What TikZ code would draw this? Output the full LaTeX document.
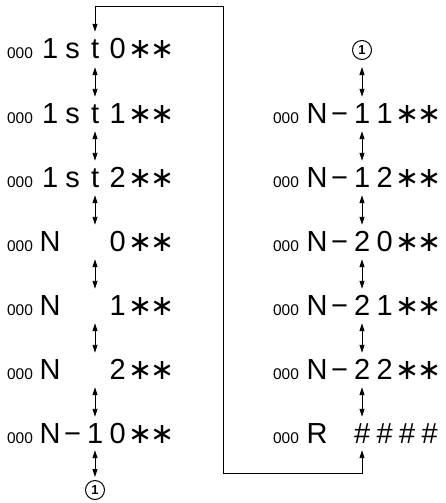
\documentclass[tikz,border=0pt]{standalone}
\usepackage{fontspec}
\setmainfont{Liberation Sans}
\newfontfamily\djv{DejaVu Sans}
\usepackage{graphicx}
\usetikzlibrary{arrows.meta,calc}
\newcommand\ch[1]{\makebox[22.5pt][c]{#1}}
\newcommand\sk{\resizebox{!}{18pt}{\djv ∗}}
\begin{document}
\begin{tikzpicture}[x=1pt,y=-1pt,
  main/.style={anchor=base west, inner sep=0pt, text height=20pt, text depth=0pt, font=\fontsize{29}{32}\selectfont},
  lab/.style={anchor=base, inner sep=0pt, font=\fontsize{15.5}{17}\selectfont},
  link/.style={line width=0.9pt, {Triangle[length=8pt,width=5pt]}-{Triangle[length=8pt,width=5pt]}},
  numcirc/.style={circle, draw, line width=1pt, minimum size=19pt, inner sep=0pt, font=\bfseries\fontsize{13}{13}\selectfont}]
\useasboundingbox (0,0) rectangle (445,503);
\coordinate (axL) at (95,0);
\coordinate (axR) at (362,0);
% left column
\node[lab] (l1) at (20,59) {000};
\node[main] (L1) at (38.75,59) {\ch{1}\ch{s}\ch{t}\ch{0}\ch{\sk}\ch{\sk}};
\node[lab] (l2) at (20,123) {000};
\node[main] (L2) at (38.75,123) {\ch{1}\ch{s}\ch{t}\ch{1}\ch{\sk}\ch{\sk}};
\node[lab] (l3) at (20,187) {000};
\node[main] (L3) at (38.75,187) {\ch{1}\ch{s}\ch{t}\ch{2}\ch{\sk}\ch{\sk}};
\node[lab] (l4) at (20,251) {000};
\node[main] (L4) at (38.75,251) {\ch{N}\ch{}\ch{}\ch{0}\ch{\sk}\ch{\sk}};
\node[lab] (l5) at (20,315) {000};
\node[main] (L5) at (38.75,315) {\ch{N}\ch{}\ch{}\ch{1}\ch{\sk}\ch{\sk}};
\node[lab] (l6) at (20,379) {000};
\node[main] (L6) at (38.75,379) {\ch{N}\ch{}\ch{}\ch{2}\ch{\sk}\ch{\sk}};
\node[lab] (l7) at (20,443) {000};
\node[main] (L7) at (38.75,443) {\ch{N}\ch{−}\ch{1}\ch{0}\ch{\sk}\ch{\sk}};
% right column
\node[lab] (r2) at (286,123) {000};
\node[main] (R2) at (305.75,123) {\ch{N}\ch{−}\ch{1}\ch{1}\ch{\sk}\ch{\sk}};
\node[lab] (r3) at (286,187) {000};
\node[main] (R3) at (305.75,187) {\ch{N}\ch{−}\ch{1}\ch{2}\ch{\sk}\ch{\sk}};
\node[lab] (r4) at (286,251) {000};
\node[main] (R4) at (305.75,251) {\ch{N}\ch{−}\ch{2}\ch{0}\ch{\sk}\ch{\sk}};
\node[lab] (r5) at (286,315) {000};
\node[main] (R5) at (305.75,315) {\ch{N}\ch{−}\ch{2}\ch{1}\ch{\sk}\ch{\sk}};
\node[lab] (r6) at (286,379) {000};
\node[main] (R6) at (305.75,379) {\ch{N}\ch{−}\ch{2}\ch{2}\ch{\sk}\ch{\sk}};
\node[lab] (r7) at (286,443) {000};
\node[main] (R7) at (305.75,443) {\ch{R}\ch{}\ch{\#}\ch{\#}\ch{\#}\ch{\#}};
% circled markers
\node[numcirc] (c1) at (95,490) {1};
\node[numcirc] (c2) at (362,50) {1};
% arrows between rows
\foreach \a/\b in {L1/L2,L2/L3,L3/L4,L4/L5,L5/L6,L6/L7}
  \draw[link] ($(\a.south -| axL)+(0,8)$) -- ($(\b.north -| axL)+(0,-6)$);
\foreach \a/\b in {R2/R3,R3/R4,R4/R5,R5/R6,R6/R7}
  \draw[link] ($(\a.south -| axR)+(0,8)$) -- ($(\b.north -| axR)+(0,-6)$);
\draw[link] ($(L7.south -| axL)+(0,7)$) -- ($(c1.north)+(0,-3)$);
\draw[link] ($(c2.south)+(0,7)$) -- ($(R2.north -| axR)+(0,-6)$);
% loop connector
\coordinate (jt) at (223,6);
\coordinate (jb) at (223,473);
\draw[link] ($(L1.north -| axL)+(0,-7)$) |- (jt) -- (jb) -| ($(R7.south -| axR)+(0,7)$);
\end{tikzpicture}
\end{document}
